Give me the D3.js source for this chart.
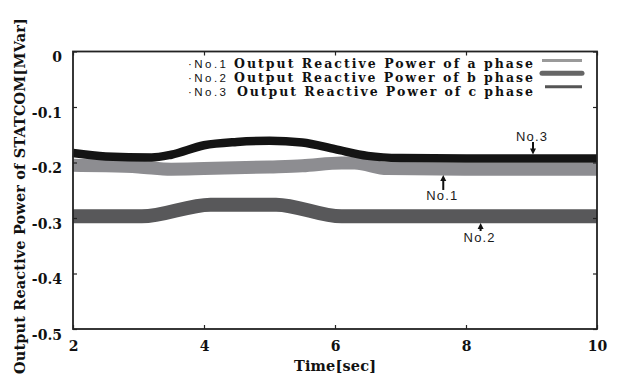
<!DOCTYPE html>
<html><head><meta charset="utf-8">
<script src="https://cdn.jsdelivr.net/npm/d3@7/dist/d3.min.js"></script>
<style>
html,body{margin:0;padding:0;background:#fff;}
svg{display:block;}
</style></head>
<body>
<svg id="chart" width="619" height="376"></svg>
<script>
// ---- data ----
const seriesNames = ["No.1", "No.2", "No.3"];
const legendTexts = ["Output Reactive Power of a phase", "Output Reactive Power of b phase", "Output Reactive Power of c phase"];

const timeNo1 = [2, 2.5, 3, 3.5, 4, 5, 5.5, 6.1, 6.3, 6.8, 8, 10];
const valNo1  = [-0.205, -0.206, -0.208, -0.212, -0.211, -0.208, -0.206, -0.201, -0.201, -0.211, -0.212, -0.212];

const timeNo2 = [2, 3.05, 4.1, 5.1, 6.1, 8, 10];
const valNo2  = [-0.297, -0.297, -0.276, -0.276, -0.297, -0.297, -0.297];

const timeNo3 = [2, 2.5, 3.2, 3.5, 4, 4.5, 5, 5.5, 6, 6.5, 7, 8, 10];
const valNo3  = [-0.183, -0.189, -0.191, -0.186, -0.169, -0.163, -0.161, -0.164, -0.176, -0.188, -0.192, -0.193, -0.193];

const xTicks = [2, 4, 6, 8, 10];
const yTicks = [0, -0.1, -0.2, -0.3, -0.4, -0.5];
const yTickLabels = ["0", "-0.1", "-0.2", "-0.3", "-0.4", "-0.5"];

const annoLabels = ["No.3", "No.1", "No.2"];
const annoT      = [9.0, 7.63, 8.2];
const annoTextV  = [-0.1607, -0.2676, -0.343];
const arrowFromV = [-0.163, -0.2495, -0.3234];
const arrowToV   = [-0.1855, -0.2225, -0.309];

// ---- layout ----
const svg = d3.select("#chart");
const L = 73, R = 597, T = 51.5, B = 329;
const x = d3.scaleLinear().domain([2, 10]).range([L, R]);
const y = d3.scaleLinear().domain([-0.5, 0]).range([B, T]);

const serif = "'DejaVu Serif','Liberation Serif',serif";
const sans = "'Liberation Sans',Arial,sans-serif";

// series
const series = [
  {t: timeNo2, v: valNo2, color: "#58585a", w: 14, curve: d3.curveMonotoneX},
  {t: timeNo1, v: valNo1, color: "#8d8d91", w: 13, curve: d3.curveMonotoneX},
  {t: timeNo3, v: valNo3, color: "#141414", w: 8.5, curve: d3.curveMonotoneX}
];
series.forEach(s => {
  const pts = s.t.map((t, i) => [t, s.v[i]]);
  svg.append("path")
    .attr("d", d3.line().x(d => x(d[0])).y(d => y(d[1])).curve(s.curve)(pts))
    .attr("fill", "none").attr("stroke", s.color).attr("stroke-width", s.w)
    .attr("stroke-linejoin", "round");
});

// axes
const gL = svg.append("g").attr("transform", `translate(${L},0)`)
  .call(d3.axisLeft(y).tickValues(yTicks).tickSize(-4).tickPadding(11)
    .tickFormat((d, i) => yTickLabels[i]));
gL.attr("font-family", null).attr("font-size", null);
gL.selectAll("text").attr("dy", "0.74em")
  .style("font-family", serif).style("font-weight", "bold").style("font-size", "14px")
  .style("fill", "#111");

const gB = svg.append("g").attr("transform", `translate(0,${B})`)
  .call(d3.axisBottom(x).tickValues(xTicks).tickSize(-4).tickPadding(12).tickFormat(d3.format("d")));
gB.attr("font-family", null).attr("font-size", null);
gB.selectAll("text")
  .style("font-family", serif).style("font-weight", "bold").style("font-size", "14px")
  .style("fill", "#111");

svg.append("g").attr("transform", `translate(0,${T})`)
  .call(d3.axisTop(x).tickValues(xTicks).tickSize(-4).tickFormat(""));
svg.append("g").attr("transform", `translate(${R},0)`)
  .call(d3.axisRight(y).tickValues(yTicks).tickSize(-4).tickFormat(""));

svg.selectAll(".domain").remove();
svg.selectAll(".tick line").attr("stroke", "#222").attr("stroke-width", 1.2);

svg.append("rect").attr("x", L).attr("y", T).attr("width", R - L).attr("height", B - T)
  .attr("fill", "none").attr("stroke", "#222").attr("stroke-width", 1.8);

// axis titles
svg.append("text").attr("transform", "translate(25,196) rotate(-90)")
  .attr("text-anchor", "middle")
  .style("font-family", serif).style("font-weight", "bold").style("font-size", "14.5px").style("fill", "#111")
  .attr("textLength", 356).attr("lengthAdjust", "spacing")
  .text("Output Reactive Power of STATCOM[MVar]");

svg.append("text").attr("x", (L + R) / 2).attr("y", 371)
  .attr("text-anchor", "middle")
  .style("font-family", serif).style("font-weight", "bold").style("font-size", "14.5px").style("fill", "#111")
  .attr("textLength", 82).attr("lengthAdjust", "spacing")
  .text("Time[sec]");

// legend
const legBase = [67.5, 81.5, 95.5];
const legStart = [234, 234, 237];
const legLineY = [60.5, 73.3, 86.7];
const legLine = [
  {color: "#9a9a9a", w: 3, x0: 542},
  {color: "#666666", w: 5, x0: 542},
  {color: "#555555", w: 3, x0: 545}
];
seriesNames.forEach((n, i) => {
  svg.append("text").attr("x", 188).attr("y", legBase[i])
    .style("font-family", sans).style("font-size", "11.5px").style("fill", "#111")
    .attr("textLength", 38).attr("lengthAdjust", "spacing")
    .text("·" + n);
  svg.append("text").attr("x", legStart[i]).attr("y", legBase[i])
    .style("font-family", serif).style("font-weight", "bold").style("font-size", "12.5px").style("fill", "#111")
    .attr("textLength", 533 - legStart[i]).attr("lengthAdjust", "spacing")
    .text(legendTexts[i]);
  svg.append("line").attr("x1", legLine[i].x0).attr("x2", 582)
    .attr("y1", legLineY[i]).attr("y2", legLineY[i])
    .attr("stroke", legLine[i].color).attr("stroke-width", legLine[i].w)
    .attr("stroke-linecap", i === 1 ? "round" : "butt");
});

// annotations
annoLabels.forEach((lab, i) => {
  const ax = x(annoT[i]);
  svg.append("text").attr("x", ax).attr("y", y(annoTextV[i]))
    .attr("text-anchor", "middle")
    .style("font-family", sans).style("font-size", "13px").style("fill", "#1a1a1a")
    .attr("textLength", 31).attr("lengthAdjust", "spacing")
    .text(lab);
  const y0 = y(arrowFromV[i]), y1 = y(arrowToV[i]);
  const dir = y1 > y0 ? 1 : -1;
  svg.append("line").attr("x1", ax + 1.5).attr("x2", ax + 1.5)
    .attr("y1", y0).attr("y2", y1 - dir * 4)
    .attr("stroke", "#111").attr("stroke-width", 2);
  svg.append("path")
    .attr("d", `M${ax + 1.5},${y1} L${ax - 1.5},${y1 - dir * 6} L${ax + 4.5},${y1 - dir * 6} Z`)
    .attr("fill", "#111");
});
</script>
</body></html>
